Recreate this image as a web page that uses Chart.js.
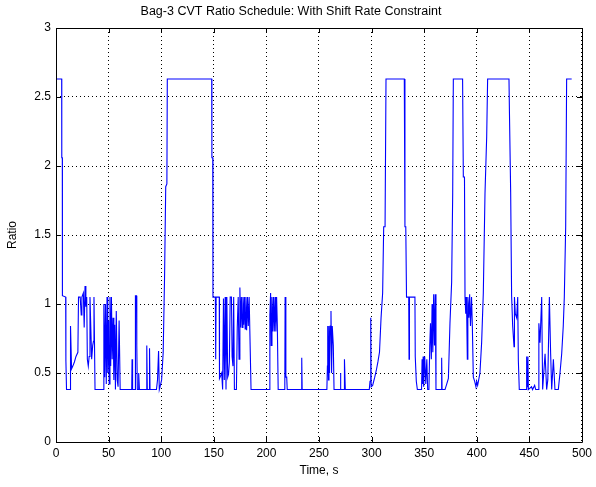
<!DOCTYPE html>
<html>
<head>
<meta charset="utf-8">
<script src="https://cdn.jsdelivr.net/npm/chart.js@4.4.1/dist/chart.umd.min.js"></script>
<style>
  html, body { margin: 0; padding: 0; background: #fff; }
  #wrap { width: 596px; height: 487px; }
</style>
</head>
<body>
<div id="wrap"><canvas id="ratioChart"></canvas></div>
<script>
// CVT ratio vs time as [time s, ratio]
const ratioSchedule = [
  [0, 2.63], [5.4, 2.63], [5.5, 2.06], [6, 2.06], [6.1, 1.06], [9.2, 1.05], [9.4, 0.59], [10, 0.38],
  [13.6, 0.38], [13.8, 0.84], [14.8, 0.53], [16, 0.55], [17.5, 0.58], [19, 0.62], [20.8, 0.65],
  [21.4, 1.05], [23, 1.05], [24, 0.92], [24.6, 1.05], [26, 1.08], [26.8, 0.83], [27.6, 1.13],
  [28.4, 0.98], [29.2, 1.05], [29.8, 0.6], [30.7, 0.55], [31.5, 0.62], [32.3, 1.05], [33.9, 0.6],
  [34.9, 0.7], [35.6, 0.73], [36.1, 1.05], [37.1, 0.38], [45, 0.38], [45.5, 1.0], [46.3, 0.47],
  [47, 1.0], [47.8, 0.42], [48.5, 1.05], [49.2, 0.5], [50, 0.88], [50.6, 0.42], [51.3, 1.05],
  [52, 0.55], [52.7, 1.05], [53.4, 0.6], [54.2, 0.9], [55, 0.45], [55.8, 0.85], [56.5, 0.38],
  [57.3, 0.95], [58.2, 0.45], [59, 0.4], [60, 0.88], [61, 0.38], [72, 0.38], [72.3, 0.6],
  [72.8, 0.38], [75.2, 0.38], [75.5, 1.06], [76.5, 1.06], [76.8, 0.7], [77.3, 0.38], [78.3, 0.38],
  [78.6, 0.5], [79.3, 0.38], [86, 0.38], [86.3, 0.7], [86.8, 0.38], [88.6, 0.38], [88.9, 0.68],
  [89.4, 0.38], [95.5, 0.38], [96.5, 0.45], [97.5, 0.66], [98.2, 0.38], [98.9, 0.4], [100.4, 0.45],
  [101.9, 0.65], [103.2, 1.2], [104.3, 1.85], [105.4, 1.87], [105.8, 2.63],
  [148, 2.63], [148.2, 2.06], [149, 2.06], [149.2, 1.05], [151.5, 1.05], [151.8, 0.6], [152.2, 1.05],
  [155.2, 1.05], [155.4, 0.46], [156.5, 0.48], [157.5, 0.5], [158.4, 0.38], [159.2, 1.04],
  [160, 0.45], [160.8, 1.05], [161.6, 0.38], [162.4, 1.05], [163.2, 0.47], [164, 0.49],
  [164.8, 0.58], [165.6, 1.05], [166.8, 1.05], [167.4, 0.62], [168.2, 0.55], [168.9, 1.05],
  [169.6, 0.38], [171.5, 0.38], [172.3, 0.83], [173.2, 1.05], [174, 0.6], [174.8, 1.12],
  [175.5, 0.83], [176.2, 1.05], [177, 0.83], [177.7, 1.05], [178.4, 0.85], [179.1, 1.05],
  [179.8, 0.82], [180.5, 1.05], [181.2, 0.81], [182, 1.05], [182.8, 0.84], [183.6, 1.05],
  [184.4, 1.05], [185.4, 0.38], [202.8, 0.38], [203.3, 0.92], [204, 1.08], [204.6, 0.7],
  [205.3, 1.05], [206, 0.8], [206.8, 1.05], [207.5, 0.8], [208.3, 1.05], [209, 0.8], [209.7, 1.05],
  [210.4, 0.84], [211.2, 0.38], [217.5, 0.38], [217.8, 1.05], [218.5, 0.47], [219.3, 0.47],
  [219.8, 0.38], [233.4, 0.38], [233.6, 0.61], [234, 0.38],
  [257.5, 0.38], [258, 0.55], [258.3, 0.84], [259, 0.45], [259.5, 0.84], [260, 0.5], [260.7, 0.84],
  [261.4, 0.95], [262, 0.5], [262.6, 0.84], [263.3, 0.84], [263.6, 0.7], [264.3, 0.38], [270, 0.38],
  [270.3, 0.5], [270.9, 0.38], [274, 0.38], [274.2, 0.6], [275, 0.38], [297.8, 0.38], [298.5, 0.44],
  [299.2, 0.9], [299.6, 0.4], [301, 0.41], [303, 0.47], [304.5, 0.52], [306, 0.58], [307.5, 0.65],
  [309, 0.9], [310.5, 1.08], [311.5, 1.56], [312.8, 1.56], [313.7, 2.63], [331.1, 2.63],
  [331.7, 1.56], [332.5, 1.56], [333.2, 1.05], [335.3, 1.05], [335.6, 0.6], [336, 1.05],
  [341.2, 1.05], [341.5, 0.62], [342.5, 0.44], [343.5, 0.38], [347.5, 0.38], [348, 0.6],
  [348.5, 0.42], [349, 0.62], [349.5, 0.4], [350.5, 0.62], [351.5, 0.42], [352.5, 0.6],
  [353.3, 0.38], [354.5, 0.38], [355.3, 0.7], [356, 0.86], [356.8, 0.6], [357.5, 1.0],
  [358.2, 0.65], [359, 1.07], [359.8, 0.7], [360.5, 1.07], [361.2, 0.38], [366.3, 0.38],
  [366.6, 0.61], [367, 0.38], [369.8, 0.38], [371.4, 0.42], [373, 0.46], [374.5, 0.86],
  [376.1, 1.16], [377.1, 1.8], [377.7, 2.63],
  [386.5, 2.63], [387.2, 1.92], [388.3, 1.92], [388.8, 1.05], [389.5, 0.93], [390.2, 1.05],
  [391, 0.6], [391.5, 1.05], [392.5, 0.9], [393.2, 1.07], [394, 0.84], [395, 1.05], [395.8, 0.83],
  [396.7, 0.47], [398, 0.44], [399.2, 0.4], [399.9, 0.44], [400.8, 0.41], [401.8, 0.45],
  [403, 0.5], [404.6, 0.72], [406.2, 1.08], [407.8, 1.8], [409.4, 2.21], [410.3, 2.63],
  [430.6, 2.63], [431, 2.41], [432.2, 1.81], [433.1, 1.06], [434.1, 0.84], [435.4, 0.69],
  [435.8, 1.05], [436.6, 0.93], [437.9, 0.9], [438.9, 1.05], [439.5, 0.59], [440.4, 0.38],
  [447, 0.38], [447.4, 0.62], [448.2, 0.4], [448.6, 0.62], [449, 0.38], [452, 0.4], [453, 0.38],
  [455, 0.41], [456, 0.38], [458.5, 0.38], [459, 0.86], [460.1, 0.72], [461.7, 1.05], [462.6, 0.38],
  [464.9, 0.64], [466.4, 0.38], [467.5, 0.45], [469, 1.05], [470.2, 0.64], [471.2, 0.38],
  [472.8, 0.6], [474.3, 0.38], [477.5, 0.38], [479.1, 0.5], [480.7, 0.64], [482.2, 0.84],
  [483.2, 1.05], [484.5, 1.56], [485.4, 2.63], [490.2, 2.63]
];

const xTicks = [0, 50, 100, 150, 200, 250, 300, 350, 400, 450, 500];
const yTicks = [0, 0.5, 1, 1.5, 2, 2.5, 3];

const FONT = "'Liberation Sans', Arial, Helvetica, sans-serif";

// MATLAB-style box with inward tick marks on all four sides
const boxPlugin = {
  id: 'box',
  afterDraw(chart) {
    const ctx = chart.ctx;
    const { left, right, top, bottom } = chart.chartArea;
    const xs = chart.scales.x, ys = chart.scales.y;
    ctx.save();
    ctx.strokeStyle = '#000';
    ctx.lineWidth = 1;
    ctx.beginPath();
    ctx.rect(Math.round(left) + 0.5, Math.round(top) + 0.5, Math.round(right - left), Math.round(bottom - top));
    xTicks.forEach(v => {
      const p = Math.round(xs.getPixelForValue(v)) + 0.5;
      ctx.moveTo(p, bottom); ctx.lineTo(p, bottom - 5);
      ctx.moveTo(p, top); ctx.lineTo(p, top + 5);
    });
    yTicks.forEach(v => {
      const p = Math.round(ys.getPixelForValue(v)) + 0.5;
      ctx.moveTo(left, p); ctx.lineTo(left + 5, p);
      ctx.moveTo(right, p); ctx.lineTo(right - 5, p);
    });
    ctx.stroke();
    ctx.restore();
  }
};

new Chart(document.getElementById('ratioChart'), {
  type: 'line',
  data: {
    datasets: [{
      data: ratioSchedule.map(p => ({ x: p[0], y: p[1] })),
      borderColor: '#0000ff',
      borderWidth: 1.1,
      pointRadius: 0,
      tension: 0,
      fill: false
    }]
  },
  options: {
    responsive: true,
    maintainAspectRatio: false,
    animation: false,
    layout: { padding: { left: 0, right: 14, top: 0, bottom: 0 } },
    plugins: {
      legend: { display: false },
      tooltip: { enabled: false },
      title: {
        display: true,
        text: 'Bag-3 CVT Ratio Schedule: With Shift Rate Constraint',
        color: '#000',
        font: { family: FONT, size: 12.5, weight: 'normal' },
        padding: { top: 4.5, bottom: 8.5 }
      }
    },
    scales: {
      x: {
        type: 'linear',
        min: 0, max: 500,
        afterBuildTicks: s => { s.ticks = xTicks.map(v => ({ value: v })); },
        afterFit: s => { s.height = 45; },
        grid: { color: '#000', drawTicks: false, lineWidth: 1 },
        border: { display: false, dash: [1, 3] },
        ticks: { color: '#000', font: { family: FONT, size: 12 }, padding: 4, maxRotation: 0 },
        title: { display: true, text: 'Time, s', color: '#000', font: { family: FONT, size: 12 }, padding: { top: 0, bottom: 9 } }
      },
      y: {
        min: 0, max: 3,
        afterBuildTicks: s => { s.ticks = yTicks.map(v => ({ value: v })); },
        afterFit: s => { s.width = 56; },
        grid: { color: '#000', drawTicks: false, lineWidth: 1 },
        border: { display: false, dash: [1, 3] },
        ticks: { color: '#000', font: { family: FONT, size: 12 }, padding: 5, callback: v => String(v) },
        title: { display: true, text: 'Ratio', color: '#000', font: { family: FONT, size: 12 }, padding: { top: 5, bottom: 0 } }
      }
    }
  },
  plugins: [boxPlugin]
});
</script>
</body>
</html>
